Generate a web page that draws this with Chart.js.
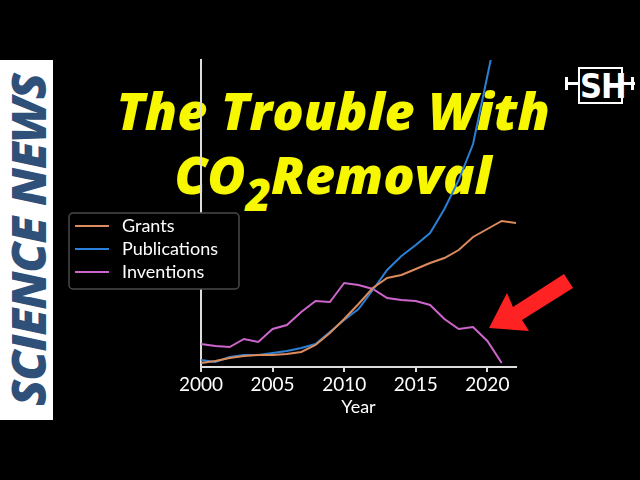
<!DOCTYPE html>
<html>
<head>
<meta charset="utf-8">
<script src="https://cdn.jsdelivr.net/npm/chart.js@4"></script>
<style>
  html, body { margin: 0; padding: 0; background: #000; }
  #stage { position: relative; width: 640px; height: 480px; overflow: hidden; background: #000; }
  #chart { position: absolute; left: 0; top: 0; width: 640px; height: 480px; }
  .side { position: absolute; left: 0; top: 60px; width: 53px; height: 360px; background: #fff; }
  .side span {
    position: absolute; left: 50%; top: 50%;
    transform: translate(-50%, -50%) rotate(-90deg);
    font: italic 800 48px "Open Sans", sans-serif; color: #2f5079; white-space: nowrap; letter-spacing: -1px;
  }
  .title {
    position: absolute; left: 0; width: 640px; text-align: center; color: #f7f700;
    font: italic 800 52px "Open Sans", sans-serif; white-space: nowrap; line-height: 1;
  }
  .title sub { font-size: 44px; vertical-align: -17px; }
  .logo { position: absolute; left: 563px; top: 64px; width: 72px; height: 44px; }
  .logo .box {
    position: absolute; left: 15px; top: 3px; width: 41px; height: 33px; border: 2px solid #fff;
    color: #fff; font: bold 34px "Liberation Sans Narrow", "DejaVu Sans Condensed", sans-serif;
    line-height: 34px; text-align: center; letter-spacing: -1px;
  }
  .logo .bar { position: absolute; background: #fff; }
</style>
</head>
<body>
<div id="stage">
  <div class="side"><span>SCIENCE NEWS</span></div>
  <div class="title" style="top:84px; left:13px;">The Trouble With</div>
  <div class="title" style="top:148px; left:13px;">CO<sub>2</sub>Removal</div>
  <div class="logo">
    <div class="bar" style="left:2px; top:13px; width:3px; height:13px;"></div>
    <div class="bar" style="left:2px; top:18px; width:13px; height:3px;"></div>
    <div class="box">SH</div>
    <div class="bar" style="left:60px; top:18px; width:12px; height:3px;"></div>
    <div class="bar" style="left:68px; top:13px; width:3px; height:13px;"></div>
  </div>
  <canvas id="chart" width="640" height="480"></canvas>
  <svg width="640" height="480" style="position:absolute;left:0;top:0;pointer-events:none">
    <polygon points="489,328 507,293 513,307 564,274 573,288 522,320 529,331" fill="#ff2222"/>
  </svg>
</div>
<script>
const years = [2000, 2001, 2002, 2003, 2004, 2005, 2006, 2007, 2008, 2009, 2010, 2011,
  2012, 2013, 2014, 2015, 2016, 2017, 2018, 2019, 2020, 2021, 2022];
const grants = [4, 6, 9, 11, 12, 12, 13, 15, 22, 34, 48, 63, 79, 89, 92, 98, 104, 109, 117, 130, 138, 146, 144];
const publications = [7, 5, 10, 12, 12, 14, 16, 19, 23, 35, 47, 58, 77, 97, 111, 122, 134, 158, 187, 223, 291, 360, null];
const inventions = [23, 21, 20, 28, 25, 38, 42, 55, 66, 65, 84, 82, 78, 69, 67, 66, 62, 48, 38, 40, 26, 4, null];
const xTicks = [2000, 2005, 2010, 2015, 2020];

Chart.defaults.font.family = 'Lato, "Open Sans", sans-serif';
Chart.defaults.color = '#fff';

function toPoints(values) {
  return years.map((y, i) => ({ x: y, y: values[i] })).filter(p => p.y !== null);
}

const boxLegend = {
  id: 'boxLegend',
  afterDraw(chart) {
    const { ctx } = chart;
    const x = 69, y = 213, w = 170, h = 76;
    ctx.save();
    ctx.fillStyle = '#000';
    ctx.strokeStyle = '#4a4a4a';
    ctx.lineWidth = 1.5;
    ctx.beginPath();
    ctx.roundRect(x, y, w, h, 4);
    ctx.fill();
    ctx.stroke();
    ctx.font = '18px Lato';
    ctx.textBaseline = 'middle';
    chart.data.datasets.forEach((ds, i) => {
      const cy = y + 13 + i * 23;
      ctx.strokeStyle = ds.borderColor;
      ctx.lineWidth = 2;
      ctx.beginPath();
      ctx.moveTo(x + 6, cy);
      ctx.lineTo(x + 40, cy);
      ctx.stroke();
      ctx.fillStyle = '#fff';
      ctx.fillText(ds.label, x + 53, cy);
    });
    ctx.restore();
  }
};

new Chart(document.getElementById('chart'), {
  type: 'line',
  data: {
    datasets: [
      { label: 'Grants', data: toPoints(grants), borderColor: '#dc8c5c' },
      { label: 'Publications', data: toPoints(publications), borderColor: '#2a80d6' },
      { label: 'Inventions', data: toPoints(inventions), borderColor: '#cc66cc' },
    ]
  },
  options: {
    responsive: false,
    animation: false,
    layout: { padding: { left: 0, right: 124, top: 60, bottom: 58 } },
    elements: { point: { radius: 0 }, line: { borderWidth: 2, tension: 0 } },
    plugins: { legend: { display: false }, tooltip: { enabled: false } },
    scales: {
      x: {
        type: 'linear', min: 2000, max: 2022,
        afterFit(scale) { scale.height = 55; },
        afterBuildTicks(scale) { scale.ticks = xTicks.map(v => ({ value: v })); },
        ticks: { font: { size: 19 }, padding: 1, maxRotation: 0, callback: v => String(v) },
        grid: { display: true, drawOnChartArea: false, drawTicks: true, tickLength: 5, color: '#ddd', lineWidth: 2 },
        border: { display: true, color: '#ddd', width: 2 },
        title: { display: true, text: 'Year', font: { size: 18 }, padding: { top: 0, bottom: 4 } }
      },
      y: {
        min: 0, max: 307,
        afterFit(scale) { scale.width = 201; },
        ticks: { display: false },
        grid: { display: false },
        border: { display: true, color: '#ddd', width: 2 }
      }
    }
  },
  plugins: [boxLegend]
});
</script>
</body>
</html>
